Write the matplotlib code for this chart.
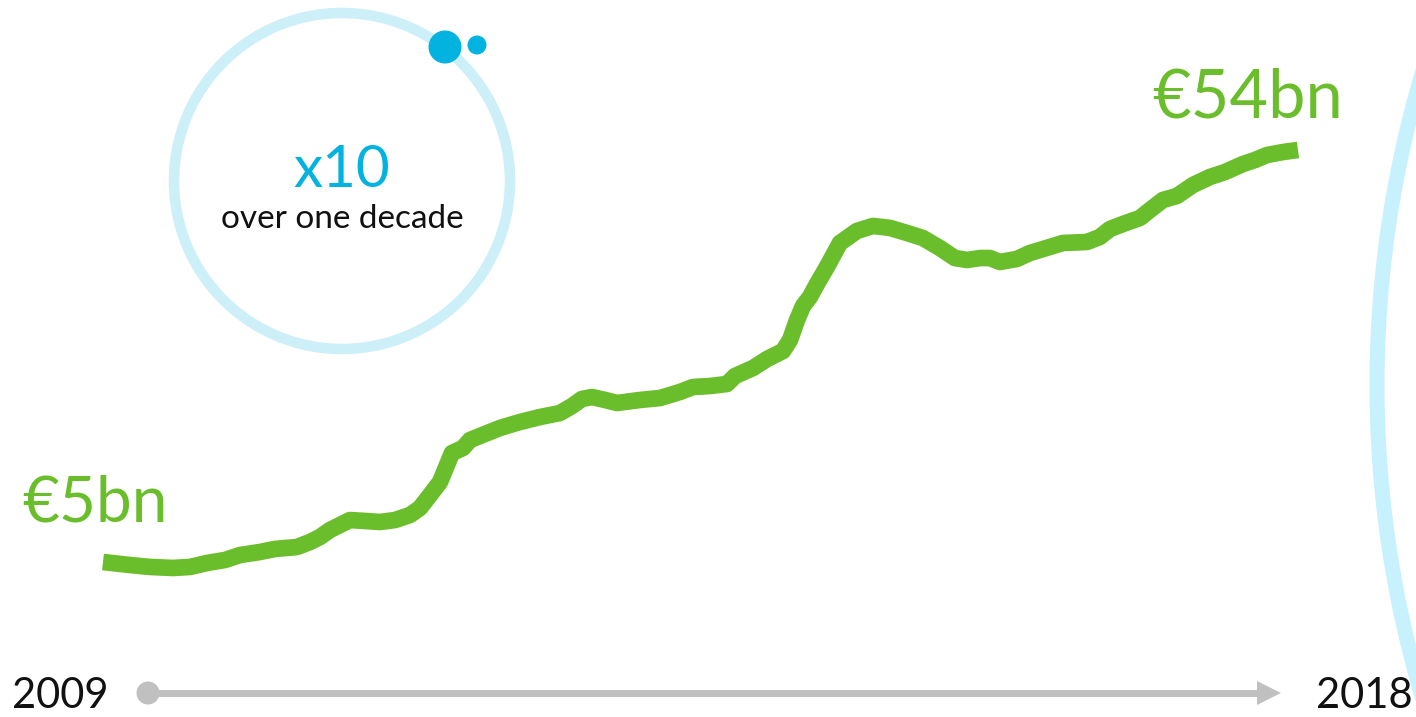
import matplotlib
matplotlib.use('Agg')
import matplotlib.pyplot as plt
from matplotlib.patches import Circle, Polygon

# funding volume, billions of euro, read along the decade
years = [2009.000, 2009.203, 2009.354, 2009.527, 2009.655, 2009.783, 2009.919,
         2010.032, 2010.182, 2010.295, 2010.461, 2010.559, 2010.634, 2010.710,
         2010.860, 2010.973, 2011.086, 2011.199, 2011.312, 2011.387, 2011.463,
         2011.538, 2011.591, 2011.628, 2011.711, 2011.764, 2011.839, 2011.990,
         2012.140, 2012.291, 2012.442, 2012.532, 2012.607, 2012.683, 2012.781,
         2012.871, 2013.044, 2013.195, 2013.345, 2013.443, 2013.571, 2013.699,
         2013.760, 2013.895, 2014.001, 2014.121, 2014.174, 2014.227, 2014.272,
         2014.324, 2014.377, 2014.452, 2014.550, 2014.678, 2014.799, 2014.927,
         2015.055, 2015.175, 2015.303, 2015.416, 2015.507, 2015.605, 2015.680,
         2015.755, 2015.883, 2015.981, 2016.230, 2016.411, 2016.508, 2016.584,
         2016.682, 2016.810, 2016.885, 2016.983, 2017.088, 2017.209, 2017.337,
         2017.450, 2017.585, 2017.676, 2017.766, 2017.887, 2018.000]
values = [5.00, 4.64, 4.41, 4.29, 4.41, 4.88, 5.24,
          5.83, 6.19, 6.55, 6.78, 7.38, 7.97, 8.81,
          9.99, 9.88, 9.76, 9.99, 10.59, 11.42, 12.96,
          14.51, 16.54, 17.96, 18.56, 19.51, 19.99, 20.94,
          21.65, 22.24, 22.72, 23.55, 24.39, 24.62, 24.27,
          23.91, 24.27, 24.50, 25.22, 25.81, 25.93, 26.17,
          27.12, 28.07, 29.14, 30.09, 31.40, 33.78, 35.45,
          36.52, 38.06, 40.09, 42.94, 44.37, 44.97, 44.73,
          44.13, 43.53, 42.34, 41.15, 40.92, 41.15, 41.15,
          40.68, 41.04, 41.75, 42.94, 43.06, 43.66, 44.61,
          45.20, 45.92, 46.86, 48.06, 48.53, 49.84, 50.79,
          51.38, 52.33, 52.81, 53.40, 53.76, 54.00]
start_label = '€5bn'
end_label = '€54bn'
start_year = '2009'
end_year = '2018'
growth_label = 'x10'
growth_note = 'over one decade'

GREEN = '#6abd2b'
CYAN = '#02b2df'
RING = '#cdeff7'
ARC = '#c6f1fd'
GREY = '#c0c0c0'
INK = '#111111'
FONT = ['Lato', 'DejaVu Sans']

W, H = 1416, 717
fig = plt.figure(figsize=(W / 100, H / 100), dpi=100)

# decoration layer in pixel units (y pointing down)
deco = fig.add_axes([0, 0, 1, 1])
deco.set_xlim(0, W)
deco.set_ylim(H, 0)
deco.axis('off')

deco.add_patch(Circle((342, 181), 168, fill=False, ec=RING, lw=7.6))
deco.add_patch(Circle((2475, 385), 1098, fill=False, ec=ARC, lw=10.8))
deco.add_patch(Circle((445, 47), 16.5, color=CYAN, lw=0))
deco.add_patch(Circle((477, 45), 9.5, color=CYAN, lw=0))
deco.text(342, 187, growth_label, color=CYAN, fontsize=42, ha='center',
          va='baseline', family=FONT)
deco.text(342, 228, growth_note, color=INK, fontsize=24, ha='center',
          va='baseline', family=FONT)

# timeline arrow
deco.plot([148, 1262], [693, 693], color=GREY, lw=5, solid_capstyle='butt')
deco.add_patch(Circle((148, 693), 11.5, color=GREY, lw=0))
deco.add_patch(Polygon([(1257, 681), (1281, 693), (1257, 705)], closed=True,
                       color=GREY, lw=0))
deco.text(12, 708, start_year, fontsize=30, ha='left', va='baseline',
          color=INK, family=FONT)
deco.text(1316, 708, end_year, fontsize=30, ha='left', va='baseline',
          color=INK, family=FONT)

# data layer: 2009 at x=103px, 2018 at x=1298px; 5bn at y=562px, 54bn at y=150px
ax = fig.add_axes([0, 0, 1, 1])
ax.patch.set_alpha(0)
px_year = (1298 - 103) / (years[-1] - years[0])
px_bn = (562 - 150) / (values[-1] - values[0])
ax.set_xlim(years[0] - 103 / px_year, years[0] + (W - 103) / px_year)
ax.set_ylim(values[0] - (H - 562) / px_bn, values[0] + 562 / px_bn)
ax.axis('off')
ax.plot(years, values, color=GREEN, lw=12, solid_capstyle='butt',
        solid_joinstyle='round')

ax.annotate(start_label, xy=(years[0], values[0]), xytext=(-81, 40),
            textcoords='offset pixels', ha='left', va='baseline',
            color=GREEN, fontsize=46, family=FONT)
ax.annotate(end_label, xy=(years[-1], values[-1]), xytext=(-146, 33),
            textcoords='offset pixels', ha='left', va='baseline',
            color=GREEN, fontsize=48, family=FONT)

fig.savefig('out.png', dpi=100)
